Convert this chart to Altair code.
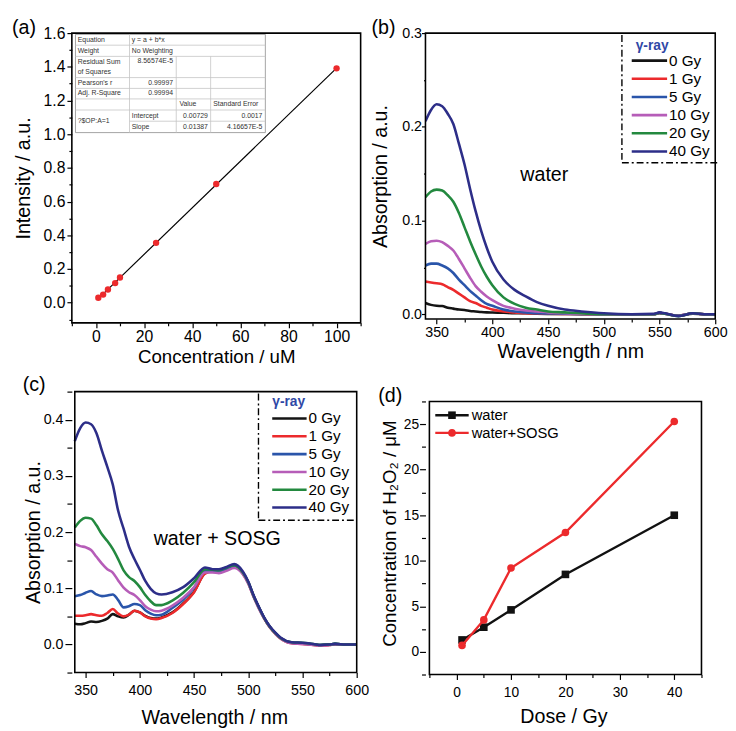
import altair as alt
import pandas as pd

FONT = "Liberation Sans"

# ---------------- data ----------------
# (a) calibration
conc = [1, 3, 5, 8, 10, 25, 50, 100]
intensity = [0.029, 0.048, 0.078, 0.116, 0.149, 0.355, 0.704, 1.391]

table_col1 = ["Equation", "Weight", "Residual Sum", "of Squares", "Pearson's r", "Adj. R-Square", "?$OP:A=1"]
table_col2 = ["y = a + b*x", "No Weighting", "8.56574E-5", "0.99997", "0.99994", "Intercept", "Slope"]
table_col3 = ["Value", "0.00729", "0.01387"]
table_col4 = ["Standard Error", "0.0017", "4.16657E-5"]

series_labels = ["0 Gy", "1 Gy", "5 Gy", "10 Gy", "20 Gy", "40 Gy"]
series_colors = ["#141414", "#ec2a2c", "#2a55aa", "#b65db8", "#23893f", "#2d2e88"]

# (b) water spectra
wl_b = [340, 345, 350, 355, 360, 365, 370, 375, 380, 385, 390, 395, 400, 410, 420,
        430, 440, 450, 465, 480, 500, 525, 545, 550, 555, 567, 580, 590, 600]
b_0 = [0.012, 0.010, 0.009, 0.0087, 0.007, 0.006, 0.005, 0.0045, 0.0035, 0.003, 0.0024, 0.002, 0.0018, 0.0015, 0.001,
       0.001, 0.0005, 0.0003, 0.0002, 0.0001, 0.0, 0.0, 0.0, 0.001, 0.0005, -0.0015, 0.0005, 0.0, 0.0]
b_1 = [0.035, 0.034, 0.033, 0.032, 0.029, 0.026, 0.022, 0.018, 0.014, 0.012, 0.009, 0.007, 0.005, 0.003, 0.002,
       0.001, 0.0008, 0.0005, 0.0003, 0.0002, 0.0, 0.0, 0.0, 0.0015, 0.0005, -0.0015, 0.001, 0.0, 0.0]
b_5 = [0.052, 0.054, 0.054, 0.052, 0.049, 0.044, 0.037, 0.031, 0.025, 0.020, 0.015, 0.011, 0.009, 0.005, 0.003,
       0.002, 0.001, 0.0008, 0.0005, 0.0003, 0.0, 0.0, 0.0, 0.0015, 0.0005, -0.0015, 0.001, 0.0, 0.0]
b_10 = [0.075, 0.078, 0.0785, 0.077, 0.073, 0.068, 0.059, 0.049, 0.039, 0.030, 0.024, 0.019, 0.015, 0.009, 0.006,
        0.004, 0.003, 0.002, 0.001, 0.0005, 0.0, 0.0, 0.0, 0.0015, 0.0005, -0.0015, 0.001, 0.0, 0.0]
b_20 = [0.125, 0.131, 0.133, 0.132, 0.127, 0.120, 0.108, 0.093, 0.078, 0.064, 0.051, 0.040, 0.031, 0.018, 0.011,
        0.007, 0.005, 0.003, 0.002, 0.001, 0.0, 0.0, 0.0, 0.0015, 0.0005, -0.002, 0.001, 0.0, 0.0]
b_40 = [0.206, 0.218, 0.224, 0.222, 0.214, 0.203, 0.182, 0.160, 0.134, 0.110, 0.089, 0.071, 0.056, 0.037, 0.026,
        0.019, 0.013, 0.009, 0.005, 0.003, 0.001, 0.0, 0.0005, 0.002, 0.001, -0.002, 0.001, 0.0, 0.0]

# (c) water + SOSG spectra
wl_c = [340, 345, 350, 355, 360, 365, 370, 375, 380, 385, 390, 395, 400, 405, 410, 415, 420, 430, 440, 450,
        460, 467, 473, 480, 487, 495, 500, 505, 510, 515, 520, 525, 530, 540, 550, 560, 567, 575, 580, 590, 600]
c_0 = [0.037, 0.036, 0.038, 0.041, 0.040, 0.042, 0.046, 0.054, 0.050, 0.048, 0.053, 0.060, 0.057, 0.051, 0.047,
       0.046, 0.048, 0.057, 0.073, 0.094, 0.127, 0.131, 0.130, 0.135, 0.140, 0.127,
       0.110, 0.086, 0.065, 0.046, 0.031, 0.020, 0.011, 0.003, 0.002, 0.000, -0.001, 0.000, 0.001, 0.000, 0.000]
c_1 = [0.051, 0.051, 0.052, 0.054, 0.052, 0.051, 0.056, 0.063, 0.055, 0.050, 0.053, 0.060, 0.057, 0.050, 0.046,
       0.045, 0.047, 0.056, 0.072, 0.093, 0.126, 0.130, 0.129, 0.134, 0.139, 0.126,
       0.109, 0.085, 0.064, 0.045, 0.030, 0.019, 0.010, 0.002, 0.001, -0.001, -0.002, -0.001, 0.000, 0.000, 0.000]
c_5 = [0.086, 0.088, 0.092, 0.095, 0.089, 0.086, 0.087, 0.089, 0.079, 0.066, 0.068, 0.072, 0.070, 0.061, 0.055,
       0.052, 0.053, 0.065, 0.080, 0.101, 0.131, 0.131, 0.130, 0.135, 0.140, 0.127,
       0.110, 0.086, 0.065, 0.046, 0.031, 0.020, 0.011, 0.003, 0.002, 0.000, -0.001, 0.000, 0.001, 0.000, 0.000]
c_10 = [0.179, 0.175, 0.173, 0.168, 0.156, 0.144, 0.134, 0.128, 0.114, 0.101, 0.093, 0.088, 0.079, 0.068, 0.062,
        0.059, 0.060, 0.069, 0.083, 0.102, 0.128, 0.128, 0.127, 0.131, 0.136, 0.125,
        0.108, 0.084, 0.063, 0.045, 0.030, 0.019, 0.010, 0.002, 0.001, -0.001, -0.002, -0.001, 0.000, 0.000, 0.000]
c_20 = [0.208, 0.220, 0.2255, 0.224, 0.212, 0.196, 0.184, 0.170, 0.152, 0.132, 0.120, 0.113, 0.102, 0.088, 0.077,
        0.070, 0.070, 0.078, 0.092, 0.111, 0.134, 0.133, 0.132, 0.137, 0.141, 0.128,
        0.111, 0.086, 0.065, 0.046, 0.031, 0.020, 0.011, 0.004, 0.003, 0.001, -0.001, 0.000, 0.001, 0.000, 0.000]
c_40 = [0.362, 0.385, 0.395, 0.392, 0.376, 0.345, 0.316, 0.285, 0.238, 0.206, 0.174, 0.152, 0.133, 0.113, 0.099,
        0.091, 0.089, 0.093, 0.102, 0.118, 0.137, 0.134, 0.134, 0.138, 0.143, 0.130,
        0.112, 0.087, 0.066, 0.047, 0.032, 0.021, 0.012, 0.004, 0.003, 0.001, -0.001, 0.000, 0.001, 0.000, 0.000]

# (d) H2O2 yield
dose = [1, 5, 10, 20, 40]
h2o2_water = [1.3, 2.7, 4.6, 8.5, 15.0]
h2o2_sosg = [0.7, 3.5, 9.2, 13.1, 25.3]
d_labels = ["water", "water+SOSG"]
d_colors = ["#111111", "#ec2a2c"]

# ---------------- helpers ----------------
dummy = pd.DataFrame({"d": [0]})


def px_rule(x1, x2, y1, y2, color="black", width=1.0, dash=None):
    kw = dict(color=color, strokeWidth=width)
    if dash:
        kw["strokeDash"] = dash
    return alt.Chart(dummy).mark_rule(**kw).encode(
        x=alt.value(x1), x2=alt.value(x2), y=alt.value(y1), y2=alt.value(y2))


def px_text(s, x, y, size, color="black", align="left", weight="normal"):
    return alt.Chart(dummy).mark_text(text=s, fontSize=size, color=color, align=align,
                                      fontWeight=weight, baseline="middle", font=FONT).encode(
        x=alt.value(x), y=alt.value(y))


def frame(x0, y0, x1, y1):
    return alt.Chart(dummy).mark_rect(fillOpacity=0, stroke="black", strokeWidth=1.6).encode(
        x=alt.value(x0), x2=alt.value(x1), y=alt.value(y0), y2=alt.value(y1))


def mk_axis(values, test, fmt, title, lsize, tsize=20, tmaj=5, tmin=3, lpad=2, tpad=5):
    return alt.Axis(values=values, title=title, format=fmt,
                    labelExpr=f"({test}) ? datum.label : ''",
                    tickSize={"condition": {"test": test, "value": tmaj}, "value": tmin},
                    labelFontSize=lsize, titleFontSize=tsize, labelPadding=lpad, titlePadding=tpad,
                    labelFlush=False, labelOverlap=False, grid=False, domain=False,
                    tickColor="black", tickWidth=1.2, labelColor="black", titleColor="black",
                    titleFontWeight="normal", labelFont=FONT, titleFont=FONT)


def gy_legend(line_x0, line_x1, text_x, title_x, title_y, y0, step):
    layers = [px_text("\u03b3-ray", title_x, title_y, 14, color="#2f48a6", weight="bold")]
    for i, (lab, col) in enumerate(zip(series_labels, series_colors)):
        y = y0 + i * step
        layers.append(px_rule(line_x0, line_x1, y, y, color=col, width=2.6))
        layers.append(px_text(lab, text_x, y, 15.5))
    return layers


# ---------------- panel (a) ----------------
WA, HA = 294, 295
df_a = pd.DataFrame({"conc": conc, "intensity": intensity})
xa = alt.X("conc:Q", scale=alt.Scale(domain=[-10, 110], nice=False, zero=False),
           axis=mk_axis(list(range(-10, 111, 10)), "datum.value % 20 === 0", "d",
                        "Concentration / uM", 16, tsize=19, lpad=1, tpad=3))
ya = alt.Y("intensity:Q", scale=alt.Scale(domain=[-0.12, 1.6], nice=False, zero=False),
           axis=mk_axis([round(i * 0.1, 1) for i in range(-1, 17)],
                        "abs(round(datum.value*10)) % 2 === 0", ".1f",
                        "Intensity / a.u.", 16, tsize=20, lpad=2, tpad=10))
base_a = alt.Chart(df_a).encode(x=xa, y=ya)
fit_a = base_a.transform_regression("conc", "intensity").mark_line(color="black", strokeWidth=1.2)
pts_a = base_a.mark_circle(color="#ec2a2c", size=42, opacity=1)

# inset table (pixel layout inside the panel)
tx = [3.7, 58.7, 106.3, 141.3, 197]
ty = [1.3, 12.3, 23.7, 45.3, 56.3, 67, 78.3, 89.7, 101.3]
tbl = [alt.Chart(dummy).mark_rect(fill="white", stroke="#8c8c8c", strokeWidth=0.8).encode(
    x=alt.value(tx[0]), x2=alt.value(tx[4]), y=alt.value(ty[0]), y2=alt.value(ty[8]))]
for yy in ty[1:8]:
    x_start = tx[1] if yy == ty[7] else tx[0]
    tbl.append(px_rule(x_start, tx[4], yy, yy, color="#c4c4c4", width=0.8))
tbl.append(px_rule(tx[1], tx[1], ty[0], ty[8], color="#c4c4c4", width=0.8))
tbl.append(px_rule(tx[2], tx[2], ty[2], ty[8], color="#c4c4c4", width=0.8))
tbl.append(px_rule(tx[3], tx[3], ty[2], ty[8], color="#c4c4c4", width=0.8))
TS = 7
tc = "#333333"
c1_y = [6.8, 17.8, 29.5, 39.5, 50.5, 61.5, 89.7]
for s, yy in zip(table_col1, c1_y):
    tbl.append(px_text(s, 6, yy, TS, color=tc))
tbl.append(px_text(table_col2[0], 61, 6.8, TS, color=tc))
tbl.append(px_text(table_col2[1], 61, 17.8, TS, color=tc))
for s, yy in zip(table_col2[2:5], [28.5, 50.5, 61.5]):
    tbl.append(px_text(s, 103, yy, TS, color=tc, align="right"))
tbl.append(px_text(table_col2[5], 61, 84, TS, color=tc))
tbl.append(px_text(table_col2[6], 61, 95.5, TS, color=tc))
tbl.append(px_text(table_col3[0], 109.5, 72.5, TS, color=tc))
tbl.append(px_text(table_col3[1], 138.5, 84, TS, color=tc, align="right"))
tbl.append(px_text(table_col3[2], 138.5, 95.5, TS, color=tc, align="right"))
tbl.append(px_text(table_col4[0], 144, 72.5, TS, color=tc))
tbl.append(px_text(table_col4[1], 194, 84, TS, color=tc, align="right"))
tbl.append(px_text(table_col4[2], 194, 95.5, TS, color=tc, align="right"))

panel_a = alt.layer(fit_a, pts_a, *tbl, frame(0, 0, WA, HA),
                    px_text("(a)", -61, -5, 20)).properties(width=WA, height=HA)


# ---------------- spectra panels ----------------
def spectra_lines(wl, series, xdom, ydom, yvals, ytpad, ylpad, ytmaj, xtpad, xlpad, lsize):
    xs = alt.X("wl:Q", scale=alt.Scale(domain=xdom, nice=False, zero=False),
               axis=mk_axis(list(range(350, 601, 25)), "datum.value % 50 === 0", "d",
                            "Wavelength / nm", lsize, tsize=20, lpad=xlpad, tpad=xtpad))
    ys = alt.Y("a:Q", scale=alt.Scale(domain=ydom, nice=False, zero=False),
               axis=mk_axis(yvals, "abs(round(datum.value*100)) % 10 === 0", ".1f",
                            "Absorption / a.u.", lsize, tsize=20, tmaj=ytmaj, tmin=ytmaj - 2,
                            lpad=ylpad, tpad=ytpad))
    lines = []
    for vals, col in zip(series, series_colors):
        df = pd.DataFrame({"wl": wl, "a": vals})
        lines.append(alt.Chart(df).mark_line(color=col, strokeWidth=2.6, interpolate="monotone",
                                             clip=True).encode(x=xs, y=ys))
    return lines


W_B, H_B = 295, 291
lines_b = spectra_lines(wl_b, [b_0, b_1, b_5, b_10, b_20, b_40], [340, 600], [-0.005, 0.3],
                        [round(i * 0.05, 2) for i in range(0, 7)], 11, 0, 4, 3, 2, 14.5)
panel_b = alt.layer(
    *lines_b,
    px_rule(200, 200, 2, 132, dash=[7, 3, 2, 3], width=1.4),
    px_rule(200, 297, 132, 132, dash=[7, 3, 2, 3], width=1.4),
    *gy_legend(210, 246, 248, 214, 13, 28, 18.5),
    px_text("water", 121, 145, 20, align="center"),
    frame(0, 0, W_B, H_B),
    px_text("(b)", -55, -5, 20),
).properties(width=W_B, height=H_B)

# panel (c): frame starts 3 px right of the column edge
OXC = 3
W_C, H_C = 287 + OXC, 286
xdom_c = [340 - OXC * 260 / 287, 600]
lines_c = spectra_lines(wl_c, [c_0, c_1, c_5, c_10, c_20, c_40], xdom_c, [-0.05, 0.45],
                        [round(-0.05 + i * 0.05, 2) for i in range(0, 11)], 0, 2, 7, 11, 6, 14.5)
panel_c = alt.layer(
    *lines_c,
    px_rule(OXC + 187, OXC + 187, 2, 131, dash=[7, 3, 2, 3], width=1.4),
    px_rule(OXC + 187, OXC + 287, 131, 131, dash=[7, 3, 2, 3], width=1.4),
    *gy_legend(OXC + 201, OXC + 236, OXC + 238, OXC + 201, 10.7, 27.3, 18.15),
    px_text("water + SOSG", OXC + 145, 150, 20, align="center"),
    frame(OXC, 0, W_C, H_C),
    px_text("(c)", OXC - 53, -7, 20),
).properties(width=W_C, height=H_C)

# ---------------- panel (d): frame offset 4 px right, 10 px down ----------------
OXD, OYD = 4, 10
FW_D, FH_D = 277, 278
W_D, H_D = FW_D + OXD, FH_D + OYD
xdom_d = [-5 - OXD * 50 / FW_D, 45]
ydom_d = [-2.5, 27.5 + OYD * 30 / FH_D]
df_d = pd.DataFrame({
    "dose": dose * 2,
    "c": h2o2_water + h2o2_sosg,
    "s": [d_labels[0]] * len(dose) + [d_labels[1]] * len(dose),
})
xd = alt.X("dose:Q", scale=alt.Scale(domain=xdom_d, nice=False, zero=False),
           axis=mk_axis(list(range(-5, 46, 5)), "datum.value % 10 === 0", "d",
                        "Dose / Gy", 14, tsize=20, lpad=6, tpad=8))
yd = alt.Y("c:Q", scale=alt.Scale(domain=ydom_d, nice=False, zero=False),
           axis=mk_axis([-2.5 + 2.5 * i for i in range(0, 13)], "datum.value % 5 === 0", "~g",
                        "Concentration of H\u2082O\u2082 / \u03bcM", 14, tsize=19, tmaj=6, tmin=4,
                        lpad=1, tpad=4))
d_layers = []
shapes = ["square", "circle"]
for lab, col, shp in zip(d_labels, d_colors, shapes):
    sub = alt.Chart(df_d).transform_filter(alt.datum.s == lab)
    d_layers.append(sub.mark_line(color=col, strokeWidth=2.4).encode(x=xd, y=yd))
    d_layers.append(sub.mark_point(shape=shp, filled=True, color=col, size=60, opacity=1).encode(x=xd, y=yd))
d_leg = []
for i, (lab, col, shp) in enumerate(zip(d_labels, d_colors, shapes)):
    y = OYD + 14 + i * 18
    d_leg.append(px_rule(OXD + 6, OXD + 40, y, y, color=col, width=2.4))
    d_leg.append(alt.Chart(dummy).mark_point(shape=shp, filled=True, color=col, size=60, opacity=1).encode(
        x=alt.value(OXD + 23), y=alt.value(y)))
    d_leg.append(px_text(lab, OXD + 43, y, 15))
panel_d = alt.layer(*d_layers, *d_leg, frame(OXD, OYD, W_D, H_D),
                    px_text("(d)", OXD - 52, OYD - 5.5, 20)).properties(width=W_D, height=H_D)

chart = alt.concat(panel_a, panel_b, panel_c, panel_d, columns=2,
                   spacing={"row": 70, "column": 66}, bounds="flush", align="each").properties(
    padding={"left": 4, "top": 4, "right": 0, "bottom": 0}
).configure_view(stroke=None)

chart.save("out.html", embed_options={"renderer": "svg", "actions": False})
